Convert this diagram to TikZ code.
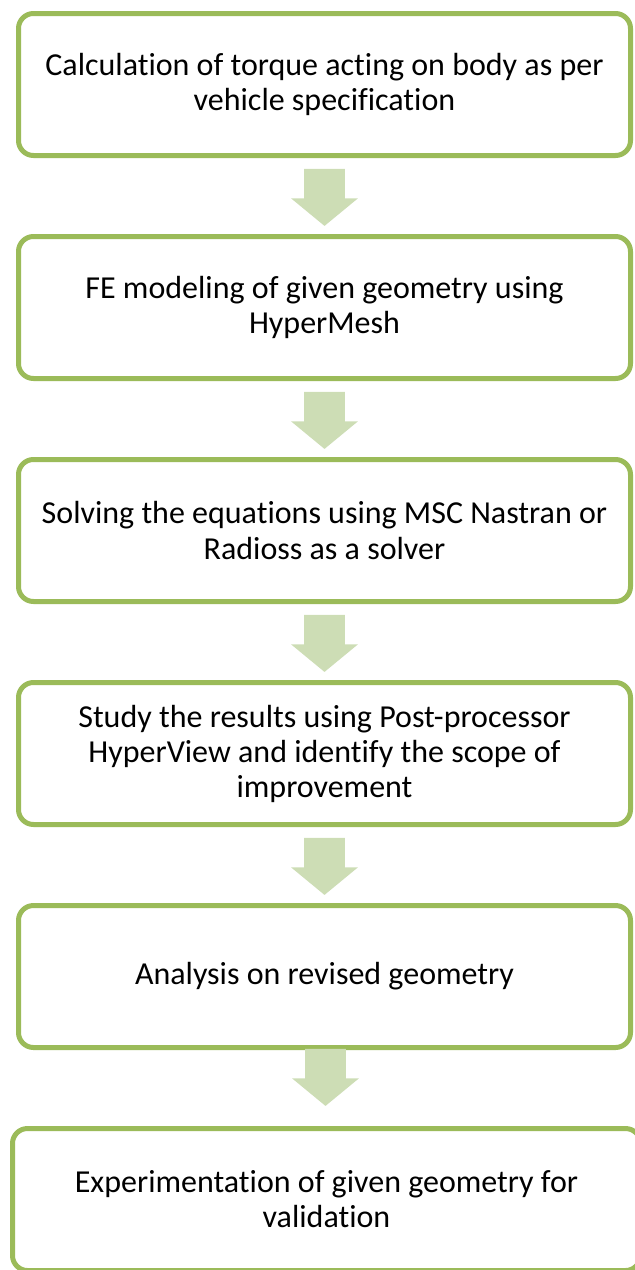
\documentclass[tikz,border=0pt]{standalone}
\usepackage{fontspec}
\setmainfont[Ligatures=NoCommon]{Carlito}
\usetikzlibrary{positioning,shapes.arrows,calc}
\definecolor{boxgreen}{RGB}{155,187,89}
\definecolor{arrowgreen}{RGB}{205,221,181}

\begin{document}
\begin{tikzpicture}[
	node distance=38pt,
	stepbox/.style={draw=boxgreen,line width=2.5pt,rounded corners=7.5pt,minimum width=306pt,minimum height=71pt,inner sep=0pt,align=center,font=\fontsize{16}{17.5}\selectfont},
	flowarrow/.style={single arrow,fill=arrowgreen,rotate=-90,xshift=-3.5pt,minimum height=28.5pt,inner xsep=0pt,inner ysep=10pt,single arrow head extend=6.5pt,single arrow tip angle=101}
	]
	\useasboundingbox (0,0) rectangle (317.5pt,-635pt);
	\node[stepbox] (torque) at (162.25pt,-42.25pt) {Calculation of torque acting on body as per\\vehicle specification};
	\node[stepbox,below=of torque] (femodel) {FE modeling of given geometry using\\HyperMesh};
	\node[stepbox,below=of femodel] (solve) {Solving the equations using MSC Nastran or\\Radioss as a solver};
	\node[stepbox,below=of solve] (study) {Study the results using Post-processor\\HyperView and identify the scope of\\improvement};
	\node[stepbox,below=of study] (revised) {Analysis on revised geometry};
	\node[stepbox,below=of revised,xshift=1pt,minimum width=314pt] (experiment) {Experimentation of given geometry for\\validation};
	\node[flowarrow] (a1) at ($(torque.south)!0.5!(femodel.north)$) {};
	\node[flowarrow] (a2) at ($(femodel.south)!0.5!(solve.north)$) {};
	\node[flowarrow] (a3) at ($(solve.south)!0.5!(study.north)$) {};
	\node[flowarrow] (a4) at ($(study.south)!0.5!(revised.north)$) {};
	\node[flowarrow,xshift=-6pt] (a5) at ($(revised.south)!0.5!(experiment.north)$) {};
\end{tikzpicture}
\end{document}
